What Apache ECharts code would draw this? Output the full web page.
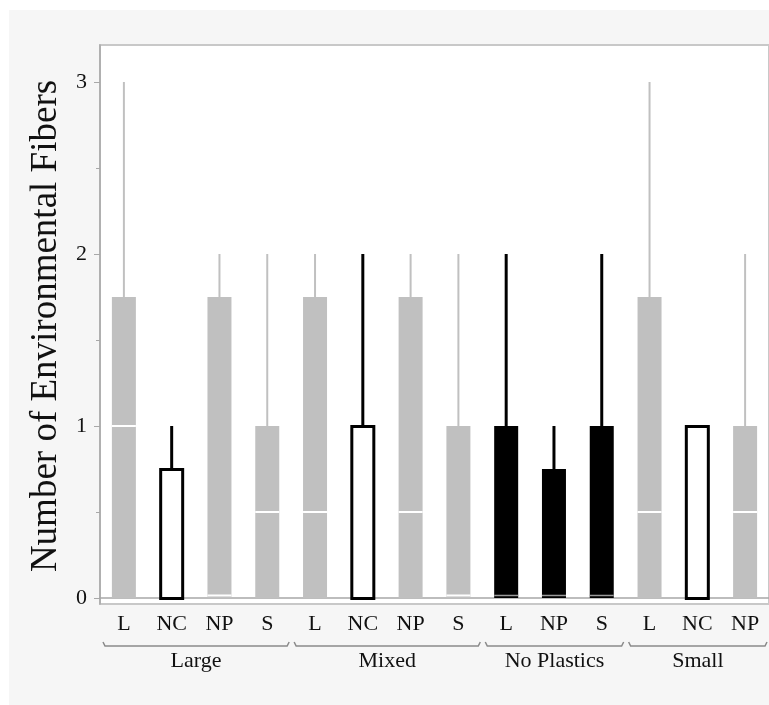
<!DOCTYPE html>
<html>
<head>
<meta charset="utf-8">
<script src="https://cdn.jsdelivr.net/npm/echarts@6/dist/echarts.min.js"></script>
<style>
  html, body { margin: 0; padding: 0; background: #ffffff; }
  #chart { width: 769px; height: 705px; }
</style>
</head>
<body>
<div id="chart"></div>
<script>
// ---- data ----
const categories = ['L', 'NC', 'NP', 'S', 'L', 'NC', 'NP', 'S', 'L', 'NP', 'S', 'L', 'NC', 'NP'];
const groupNames = ['Large', 'Mixed', 'No Plastics', 'Small'];
const groupSizes = [4, 4, 3, 3];
const mins    = [0, 0, 0, 0, 0, 0, 0, 0, 0, 0, 0, 0, 0, 0];
const q1s     = [0, 0, 0, 0, 0, 0, 0, 0, 0, 0, 0, 0, 0, 0];
const medians = [1, 0, 0, 0.5, 0.5, 0, 0.5, 0, 0, 0, 0, 0.5, 0, 0.5];
const q3s     = [1.75, 0.75, 1.75, 1, 1.75, 1, 1.75, 1, 1, 0.75, 1, 1.75, 1, 1];
const maxs    = [3, 1, 2, 2, 2, 2, 2, 2, 2, 1, 2, 3, 1, 2];
const boxKinds = ['gray', 'open', 'gray', 'gray', 'gray', 'open', 'gray', 'gray', 'black', 'black', 'black', 'gray', 'open', 'gray'];
const yTicks = [0, 1, 2, 3];
const yMinorTicks = [0.5, 1.5, 2.5];
const yTitle = 'Number of Environmental Fibers';

// ---- build ----
const boxData = categories.map((c, i) => [i, mins[i], q1s[i], medians[i], q3s[i], maxs[i]]);
const groupData = [];
let start = 0;
groupSizes.forEach((n, g) => { groupData.push([start, start + n - 1, g]); start += n; });

const GRAY = '#c0c0c0';
const SERIF = '"Liberation Serif", "Times New Roman", serif';
const TEXT = '#111111';

const chart = echarts.init(document.getElementById('chart'), null, { renderer: 'canvas' });

function renderBox(params, api) {
  const i = api.value(0);
  const kind = boxKinds[params.dataIndex];
  const pMin = api.coord([i, api.value(1)]);
  const pQ1 = api.coord([i, api.value(2)]);
  const pMed = api.coord([i, api.value(3)]);
  const pQ3 = api.coord([i, api.value(4)]);
  const pMax = api.coord([i, api.value(5)]);
  const cx = pQ3[0];
  const bw = 24;
  const children = [];
  const wColor = kind === 'gray' ? GRAY : '#000';
  const wWidth = kind === 'gray' ? 2 : 3;
  if (pMax[1] < pQ3[1]) {
    children.push({ type: 'line', shape: { x1: cx, y1: pQ3[1], x2: cx, y2: pMax[1] },
      style: { stroke: wColor, lineWidth: wWidth } });
  }
  if (pMin[1] > pQ1[1]) {
    children.push({ type: 'line', shape: { x1: cx, y1: pQ1[1], x2: cx, y2: pMin[1] },
      style: { stroke: wColor, lineWidth: wWidth } });
  }
  if (kind === 'open') {
    children.push({ type: 'rect', shape: { x: cx - 11, y: pQ3[1] + 0.5, width: 22, height: pQ1[1] - pQ3[1] },
      style: { fill: '#fff', stroke: '#000', lineWidth: 3 } });
  } else {
    const fill = kind === 'gray' ? GRAY : '#000';
    children.push({ type: 'rect', shape: { x: cx - bw / 2, y: pQ3[1], width: bw, height: pQ1[1] - pQ3[1] },
      style: { fill: fill } });
    const my = pMed[1] >= pQ1[1] - 0.5 ? pMed[1] - 2.5 : pMed[1];
    children.push({ type: 'line', shape: { x1: cx - bw / 2, y1: my, x2: cx + bw / 2, y2: my },
      style: { stroke: kind === 'gray' ? '#fff' : '#9a9a9a', lineWidth: kind === 'gray' ? 2 : 1.5 } });
  }
  return { type: 'group', children: children };
}

function renderGroup(params, api) {
  const s = api.value(0), e = api.value(1), g = api.value(2);
  const band = api.size([1, 0])[0];
  const x0 = api.coord([s, 0])[0] - band / 2 + 3;
  const x1 = api.coord([e, 0])[0] + band / 2 - 2;
  const y = 646;
  return {
    type: 'group',
    children: [
      { type: 'polyline', shape: { points: [[x0, y - 4], [x0 + 2, y], [x1 - 2, y], [x1, y - 4]] },
        style: { stroke: '#8a8a8a', lineWidth: 1.5, fill: null } },
      { type: 'text', x: (x0 + x1) / 2, y: 650,
        style: { text: groupNames[g], font: '22px ' + SERIF, fill: TEXT, align: 'center', verticalAlign: 'top' } }
    ]
  };
}

const option = {
  backgroundColor: '#ffffff',
  animation: false,
  graphic: [
    { type: 'rect', z: -10, silent: true, shape: { x: 9, y: 10, width: 760, height: 695 }, style: { fill: '#f6f6f6' } },
    { type: 'text', x: 46, y: 326, rotation: Math.PI / 2,
      style: { text: yTitle, font: '37px ' + SERIF, fill: TEXT, align: 'center', verticalAlign: 'middle' } }
  ],
  grid: {
    left: 100, right: 0, top: 45, bottom: 101,
    show: true, backgroundColor: '#ffffff', borderColor: '#c8c8c8', borderWidth: 2
  },
  xAxis: {
    type: 'category',
    data: categories,
    boundaryGap: true,
    axisLine: { show: true, lineStyle: { color: '#a8a8a8', width: 1.5 } },
    axisTick: { show: false },
    axisLabel: { fontFamily: SERIF, fontSize: 22, color: TEXT, margin: 9, interval: 0 },
    splitLine: { show: false }
  },
  yAxis: [
    {
      type: 'value',
      min: -0.035, max: 3.215,
      axisLine: { show: true, lineStyle: { color: '#a8a8a8', width: 1.5 } },
      axisTick: { show: true, length: 6, customValues: yTicks, lineStyle: { color: '#a8a8a8' } },
      axisLabel: { customValues: yTicks, fontFamily: SERIF, fontSize: 22, color: TEXT, margin: 13 },
      splitLine: { show: false }
    },
    {
      type: 'value',
      min: -0.035, max: 3.215,
      position: 'left',
      axisLine: { show: false },
      axisTick: { show: true, length: 4, customValues: yMinorTicks, lineStyle: { color: '#a8a8a8' } },
      axisLabel: { show: false },
      splitLine: { show: false }
    }
  ],
  series: [
    {
      type: 'custom',
      renderItem: renderBox,
      data: boxData,
      encode: { x: 0, y: [1, 2, 3, 4, 5] },
      z: 5
    },
    {
      type: 'custom',
      renderItem: renderGroup,
      data: groupData,
      encode: { x: [0, 1] },
      clip: false,
      silent: true,
      z: 5
    }
  ]
};
chart.setOption(option);
</script>
</body>
</html>
